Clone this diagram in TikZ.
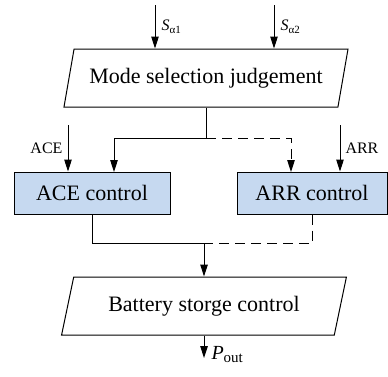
\documentclass[tikz,border=0pt]{standalone}
\usepackage{fontspec}
\setmainfont{Liberation Serif}
\usetikzlibrary{arrows.meta,positioning,shapes.geometric}
\definecolor{ctrlFill}{HTML}{C6D9F0}

\begin{document}
\begin{tikzpicture}[x=1pt,y=-1pt, line width=1pt,
  flow/.style={-{Triangle[length=12pt,width=7.5pt]}},
  alt/.style={dash pattern=on 10pt off 6pt},
  para/.style={draw, trapezium, trapezium left angle=66, trapezium right angle=114,
    trapezium stretches=true, minimum width=285pt, minimum height=58pt,
    inner sep=0pt, font=\fontsize{22}{26}\selectfont},
  ctrl/.style={draw, fill=ctrlFill, minimum height=42pt, inner sep=0pt,
    font=\fontsize{22}{26}\selectfont},
  lbl/.style={font=\fontsize{16}{18}\selectfont, inner sep=2pt}]
  \useasboundingbox (0,0) rectangle (388,376);

  \node[para] (mode) at (206,78) {Mode selection judgement};
  \node[ctrl, minimum width=156pt] (ace) at (92,193) {ACE control};
  \node[ctrl, minimum width=150pt] (arr) at (312,193) {ARR control};
  \node[para] (bat) at (204,306) {Battery storge control};

  % inputs
  \coordinate (s1) at (155,5);
  \coordinate (s2) at (274,5);
  \draw[flow] (s1) -- (s1 |- mode.north)
    node[lbl, midway, right=4pt] {\textit{S}\raisebox{-0.4ex}{\fontsize{11}{12}\selectfont α1}};
  \draw[flow] (s2) -- (s2 |- mode.north)
    node[lbl, midway, right=4pt] {\textit{S}\raisebox{-0.4ex}{\fontsize{11}{12}\selectfont α2}};

  \coordinate (aceIn) at (68,125);
  \coordinate (arrIn) at (340,125);
  \draw[flow] (aceIn) -- (aceIn |- ace.north) node[lbl, midway, left=3pt] {ACE};
  \draw[flow] (arrIn) -- (arrIn |- arr.north) node[lbl, midway, right=3pt] {ARR};

  % mode selection branches
  \coordinate (split) at (mode.south |- 0,138);
  \draw (mode.south) -- (split);
  \draw[flow] (split) -| (114,172);
  \draw[flow, alt] (split) -| (291,172);

  % merge into battery control
  \coordinate (merge) at (bat.north |- 0,243);
  \draw (ace.south) |- (merge);
  \draw[alt] (arr.south) |- (merge);
  \draw[flow] (merge) -- (bat.north);

  \coordinate (out) at (bat.south |- 0,358);
  \draw[flow] (bat.south) -- (out)
    node[pos=0.85, right=5pt, inner sep=2pt, font=\fontsize{20}{22}\selectfont]
    {\textit{P}\raisebox{-0.4ex}{\fontsize{15}{16}\selectfont out}};
\end{tikzpicture}
\end{document}
